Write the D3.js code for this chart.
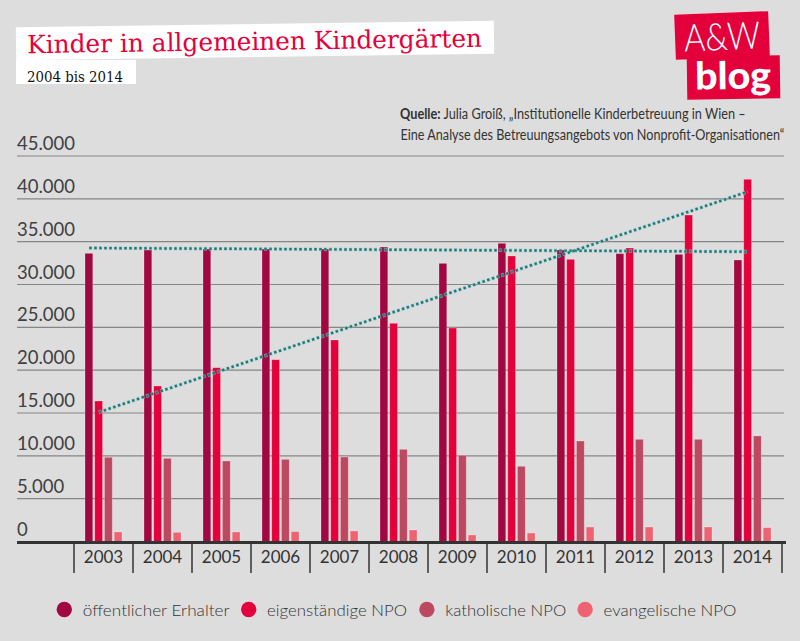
<!DOCTYPE html>
<html><head><meta charset="utf-8">
<script src="https://cdn.jsdelivr.net/npm/d3@7"></script>
<style>
html,body{margin:0;padding:0;background:#dddddd;}
svg{display:block;}
</style></head>
<body>
<svg id="chart" width="800" height="641"></svg>
<script>
const years = ["2003","2004","2005","2006","2007","2008","2009","2010","2011","2012","2013","2014"];
const seriesNames = ["öffentlicher Erhalter","eigenständige NPO","katholische NPO","evangelische NPO"];
const oeffentlich = [33640,34030,34140,34140,34140,34380,32470,34810,34030,33600,33520,32860];
const eigenstaendig = [16400,18150,20290,21220,23520,25470,24920,33330,32940,34260,38110,42280];
const katholisch = [9830,9710,9400,9590,9860,10760,10060,8780,11730,11930,11930,12320];
const evangelisch = [1110,1070,1110,1150,1230,1340,760,990,1690,1690,1690,1610];
const yTicks = [0,5000,10000,15000,20000,25000,30000,35000,40000,45000];
const yTickLabels = ["0","5.000","10.000","15.000","20.000","25.000","30.000","35.000","40.000","45.000"];
const trendOeffentlich = [34260, 33830];   // start (2003), end (2014)
const trendEigen = [15080, 40830];
const colors = ["#a10842","#e4003a","#bd4961","#ee6372"];

const allSeries = [oeffentlich, eigenstaendig, katholisch, evangelisch];
const svg = d3.select("#chart");

// place a text at (x,y) and squeeze it horizontally to a target width
function fit(sel, x, y, w) {
  const n = sel.node();
  const nat = n.getComputedTextLength();
  const s = Math.min(1.2, w / nat);
  sel.attr("x", 0).attr("y", 0).attr("transform", `translate(${x},${y}) scale(${s},1)`);
  return sel;
}

const x = d3.scaleBand().domain(years).range([74, 782]).padding(0);
const xs = d3.scaleBand().domain(d3.range(4)).range([11, 48]).paddingInner(0.2).paddingOuter(0);
const y = d3.scaleLinear().domain([0, 45000]).range([541.5, 156]);

// gridlines
svg.append("g").selectAll("line").data(yTicks.filter(d => d > 0)).join("line")
  .attr("x1", 17).attr("x2", 784)
  .attr("y1", d => y(d)).attr("y2", d => y(d))
  .attr("stroke", "#858585").attr("stroke-width", 1.2);

// y tick labels
svg.append("g").selectAll("text").data(yTicks).join("text")
  .attr("x", 17).attr("y", d => y(d) - 6)
  .attr("font-family", "Lato, 'Open Sans', sans-serif")
  .attr("font-weight", 400)
  .attr("font-size", 18.5).attr("fill", "#404040")
  .text((d, i) => yTickLabels[i]);

// bars
const gYear = svg.append("g").selectAll("g").data(years).join("g")
  .attr("transform", d => `translate(${x(d)},0)`);
gYear.selectAll("rect").data((d, i) => allSeries.map((s, k) => ({k, v: s[i]}))).join("rect")
  .attr("x", d => xs(d.k))
  .attr("width", xs.bandwidth())
  .attr("y", d => y(d.v))
  .attr("height", d => y(0) - y(d.v))
  .attr("fill", d => colors[d.k])
  .attr("stroke", "rgba(255,255,255,0.3)").attr("stroke-width", 0.8);

// trend lines
function trend(vals, k) {
  const x0 = x(years[0]) + xs(k) + xs.bandwidth() / 2;
  const x1 = x(years[years.length - 1]) + xs(1) + xs.bandwidth() / 2;
  return [[x0, y(vals[0])], [x1, y(vals[1])]];
}
const line = d3.line();
[[trendOeffentlich, 0], [trendEigen, 1]].forEach(([vals, k]) => {
  svg.append("path").attr("d", line(trend(vals, k)))
    .attr("stroke", "#8fc0c0").attr("stroke-width", 3.6)
    .attr("stroke-dasharray", "3.2,1.8").attr("fill", "none").attr("opacity", 0.8);
  svg.append("path").attr("d", line(trend(vals, k)))
    .attr("stroke", "#1c7a7a").attr("stroke-width", 2.4)
    .attr("stroke-dasharray", "2.4,2.6").attr("stroke-dashoffset", -0.4).attr("fill", "none");
});

// x axis
svg.append("line").attr("x1", 17).attr("x2", 786).attr("y1", 542.5).attr("y2", 542.5)
  .attr("stroke", "#333").attr("stroke-width", 3);
const bounds = years.map(d => x(d)).concat([x(years[years.length - 1]) + x.bandwidth()]);
svg.append("g").selectAll("line").data(bounds).join("line")
  .attr("x1", d => d).attr("x2", d => d).attr("y1", 543).attr("y2", 573)
  .attr("stroke", "#333").attr("stroke-width", 1.5);
svg.append("g").selectAll("text").data(years).join("text")
  .attr("x", d => x(d) + x.bandwidth() / 2).attr("y", 563)
  .attr("text-anchor", "middle")
  .attr("font-family", "Lato, 'Open Sans', sans-serif").attr("font-weight", 400)
  .attr("font-size", 17).attr("fill", "#333").text(d => d);

// legend
const legX = [64.3, 248.7, 426.9, 585.1];
const legW = [147, 140, 121, 133];
const lg = svg.append("g");
seriesNames.forEach((name, i) => {
  lg.append("circle").attr("cx", legX[i]).attr("cy", 609.5).attr("r", 7.7)
    .attr("fill", colors[i]);
  const t = lg.append("text")
    .attr("font-family", "Lato, 'Open Sans', sans-serif").attr("font-weight", 300)
    .attr("font-size", 16.5).attr("fill", "#333").text(name);
  fit(t, legX[i] + 18.4, 615.5, legW[i]);
});

// title
const tg = svg.append("g").attr("transform", "rotate(-0.8,255,40)");
tg.append("rect").attr("x", 16).attr("y", 24).attr("width", 478).attr("height", 33).attr("fill", "#fff");
tg.append("text").attr("x", 27).attr("y", 50)
  .attr("font-family", "'DejaVu Serif', serif").attr("font-size", 25)
  .attr("fill", "#e4003a").attr("textLength", 455).attr("lengthAdjust", "spacingAndGlyphs")
  .text("Kinder in allgemeinen Kindergärten");
svg.append("rect").attr("x", 16).attr("y", 60).attr("width", 120).attr("height", 24).attr("fill", "#fff");
svg.append("text").attr("x", 27).attr("y", 81.5)
  .attr("font-family", "'DejaVu Serif', serif").attr("font-size", 15.5)
  .attr("fill", "#111").attr("textLength", 96).attr("lengthAdjust", "spacingAndGlyphs")
  .text("2004 bis 2014");

// source
const src = svg.append("text")
  .attr("font-family", "Lato, 'Open Sans', sans-serif").attr("font-size", 15).attr("fill", "#333");
src.append("tspan").attr("font-weight", 700).text("Quelle:");
src.append("tspan").text(" Julia Groiß, „Institutionelle Kinderbetreuung in Wien –");
fit(src, 400, 119, 346);
const src2 = svg.append("text")
  .attr("font-family", "Lato, 'Open Sans', sans-serif").attr("font-size", 15).attr("fill", "#333")
  .text("Eine Analyse des Betreuungsangebots von Nonprofit-Organisationen“");
fit(src2, 400.5, 140, 384);

// logo
const logo = svg.append("g");
logo.append("g").attr("transform", "rotate(-2.2,722,35)").call(g => {
  g.append("rect").attr("x", 675).attr("y", 13).attr("width", 94).attr("height", 45).attr("fill", "#e4003a");
  g.append("text").attr("x", 722).attr("y", 50).attr("text-anchor", "middle")
    .attr("font-family", "Lato, sans-serif").attr("font-weight", 300).attr("font-size", 38)
    .attr("fill", "#fff").attr("textLength", 76).attr("lengthAdjust", "spacingAndGlyphs").text("A&W");
});
logo.append("g").attr("transform", "rotate(-0.8,733,77)").call(g => {
  g.append("rect").attr("x", 687).attr("y", 56).attr("width", 93).attr("height", 43).attr("fill", "#e4003a");
  g.append("text").attr("x", 733).attr("y", 89).attr("text-anchor", "middle")
    .attr("font-family", "Lato, sans-serif").attr("font-weight", 900).attr("font-size", 38)
    .attr("fill", "#fff").attr("textLength", 76).attr("lengthAdjust", "spacingAndGlyphs").text("blog");
});
</script>
</body></html>
